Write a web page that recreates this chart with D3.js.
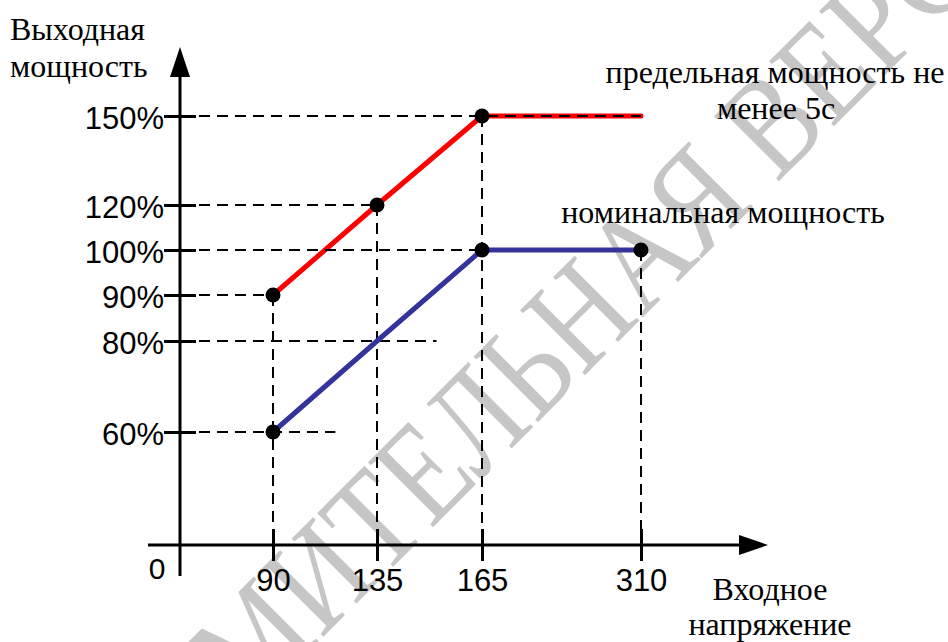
<!DOCTYPE html>
<html>
<head>
<meta charset="utf-8">
<script src="https://cdn.jsdelivr.net/npm/d3@7"></script>
<style>
  body { margin: 0; background: #fff; }
  svg { display: block; }
</style>
</head>
<body>
<div id="app"></div>
<script>
const WIDTH = 948;
const HEIGHT = 642;
const SANS = "Liberation Sans, Arial, sans-serif";
const SERIF = "Liberation Serif, Times New Roman, serif";

// tick values (the drawing is not to scale)
const VOLTAGE_TICKS = [90, 135, 165, 310];
const POWER_TICKS = [60, 80, 90, 100, 120, 150];

// curves: input voltage -> output power, %
const VOLTAGE = [90, 135, 165, 310];
const PEAK_POWER = [90, 120, 150, 150];
const NOMINAL_POWER = [60, 80, 100, 100];
const PEAK_DOTS = [90, 135, 165];
const NOMINAL_DOTS = [90, 165, 310];

// dashed helper lines
const H_GUIDES = [150, 120, 100, 90, 80, 60];
const H_GUIDE_ENDS = [310, 135, 310, 90, 152, 117];
const V_GUIDES = [90, 135, 165, 310];
const V_GUIDE_TOPS = [90, 120, 150, 100];

// piecewise scales, since the axes are only schematic
const x = d3.scaleLinear()
  .domain([0, 90, 135, 165, 310])
  .range([180, 273, 377, 482, 641]);
const y = d3.scaleLinear()
  .domain([0, 60, 80, 90, 100, 120, 150])
  .range([545, 432, 341, 295, 250, 205, 116]);

const TICK = 16;

const svg = d3.select("#app")
  .append("svg")
  .attr("width", WIDTH)
  .attr("height", HEIGHT);

// watermark
svg.append("text")
  .attr("transform", "translate(507,453) rotate(-45) scale(0.83,1)")
  .attr("text-anchor", "middle")
  .attr("font-family", SERIF)
  .attr("font-size", 140)
  .attr("fill", "#c6c6c6")
  .text("ОЗНАКОМИТЕЛЬНАЯ ВЕРСИЯ");

// x axis
const xAxis = svg.append("g")
  .attr("transform", `translate(0,${y(0)})`)
  .call(d3.axisBottom(x).tickValues(VOLTAGE_TICKS).tickSize(TICK))
  .call((g) => g.select(".domain").remove());
xAxis.selectAll(".tick line")
  .attr("y1", -TICK)
  .attr("y2", TICK)
  .attr("stroke", "#000")
  .attr("stroke-width", 3);
xAxis.selectAll(".tick text")
  .attr("y", 46)
  .attr("dy", 0)
  .attr("fill", "#000")
  .attr("font-family", SANS)
  .attr("font-size", 31);

// y axis
const yAxis = svg.append("g")
  .attr("transform", `translate(${x(0)},0)`)
  .call(d3.axisLeft(y).tickValues(POWER_TICKS).tickSize(TICK).tickFormat((d) => d + "%"))
  .call((g) => g.select(".domain").remove());
yAxis.selectAll(".tick line")
  .attr("x1", -TICK)
  .attr("x2", TICK)
  .attr("stroke", "#000")
  .attr("stroke-width", 3);
yAxis.selectAll(".tick text")
  .attr("x", -16)
  .attr("y", 12)
  .attr("dy", 0)
  .attr("fill", "#000")
  .attr("font-family", SANS)
  .attr("font-size", 31);

// axis lines with arrow heads
const x0 = x(0), y0 = y(0);
svg.append("line")
  .attr("x1", x0 - 32).attr("x2", 760)
  .attr("y1", y0).attr("y2", y0)
  .attr("stroke", "#000").attr("stroke-width", 3);
svg.append("path")
  .attr("d", `M768,${y0} L739,${y0 - 10} L739,${y0 + 10} Z`)
  .attr("fill", "#000");
svg.append("line")
  .attr("x1", x0).attr("x2", x0)
  .attr("y1", y0 + 31).attr("y2", 55)
  .attr("stroke", "#000").attr("stroke-width", 3);
svg.append("path")
  .attr("d", `M${x0},47 L${x0 - 10},77 L${x0 + 10},77 Z`)
  .attr("fill", "#000");
svg.append("text")
  .attr("x", x0 - 23).attr("y", y0 + 34)
  .attr("text-anchor", "middle")
  .attr("font-family", SANS).attr("font-size", 30)
  .text("0");

const line = d3.line()
  .x((d) => x(d[0]))
  .y((d) => y(d[1]));

// red: peak power
svg.append("path")
  .datum(d3.zip(VOLTAGE, PEAK_POWER))
  .attr("d", line)
  .attr("fill", "none")
  .attr("stroke", "#ff0000")
  .attr("stroke-width", 5)
  .attr("stroke-linecap", "round")
  .attr("stroke-linejoin", "round");

// dashed guides
const guides = svg.append("g")
  .attr("stroke", "#000")
  .attr("stroke-width", 2)
  .attr("stroke-dasharray", "11,7");
guides.selectAll(".h")
  .data(d3.zip(H_GUIDES, H_GUIDE_ENDS))
  .join("line")
  .attr("class", "h")
  .attr("x1", x0 + TICK + 3)
  .attr("x2", (d) => x(d[1]))
  .attr("y1", (d) => y(d[0]))
  .attr("y2", (d) => y(d[0]));
guides.selectAll(".v")
  .data(d3.zip(V_GUIDES, V_GUIDE_TOPS))
  .join("line")
  .attr("class", "v")
  .attr("x1", (d) => x(d[0]))
  .attr("x2", (d) => x(d[0]))
  .attr("y1", (d) => y(d[1]))
  .attr("y2", y0 - TICK);

// blue: nominal power
svg.append("path")
  .datum(d3.zip(VOLTAGE, NOMINAL_POWER))
  .attr("d", line)
  .attr("fill", "none")
  .attr("stroke", "#333399")
  .attr("stroke-width", 5)
  .attr("stroke-linejoin", "round");

// dots
const peakAt = new Map(d3.zip(VOLTAGE, PEAK_POWER));
const nominalAt = new Map(d3.zip(VOLTAGE, NOMINAL_POWER));
const dots = PEAK_DOTS.map((v) => [v, peakAt.get(v)])
  .concat(NOMINAL_DOTS.map((v) => [v, nominalAt.get(v)]));
svg.selectAll(".dot")
  .data(dots)
  .join("circle")
  .attr("class", "dot")
  .attr("cx", (d) => x(d[0]))
  .attr("cy", (d) => y(d[1]))
  .attr("r", 7.5)
  .attr("fill", "#000");

// texts
const labels = [
  ["Выходная", 10, 40, "start"],
  ["мощность", 10, 77, "start"],
  ["предельная мощность не", 775, 83, "middle"],
  ["менее 5с", 776, 119, "middle"],
  ["номинальная мощность", 723, 223, "middle"],
  ["Входное", 770, 600, "middle"],
  ["напряжение", 770, 635, "middle"],
];
svg.selectAll(".label")
  .data(labels)
  .join("text")
  .attr("class", "label")
  .attr("x", (d) => d[1])
  .attr("y", (d) => d[2])
  .attr("text-anchor", (d) => d[3])
  .attr("font-family", SERIF)
  .attr("font-size", 32)
  .attr("fill", "#000")
  .text((d) => d[0]);
</script>
</body>
</html>
